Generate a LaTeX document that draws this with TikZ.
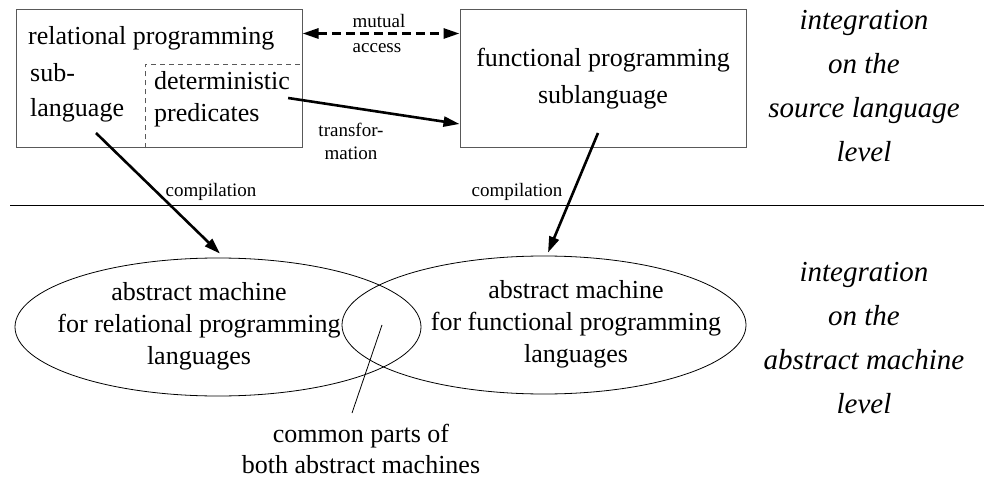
\documentclass[tikz,border=0pt]{standalone}
\usepackage{fontspec}
\setmainfont{Liberation Serif}
\usetikzlibrary{arrows.meta,shapes.geometric}
\begin{document}
\begin{tikzpicture}[x=1pt,y=-1pt,
  box/.style={draw=black!65, line width=1pt, minimum width=286pt, minimum height=138pt, inner sep=0pt},
  ell/.style={draw, ellipse, line width=0.8pt, inner sep=0pt},
  big/.style={font=\fontsize{26}{32}\selectfont, inner sep=0pt, align=center},
  lbl/.style={font=\fontsize{19}{23}\selectfont, inner sep=0pt, align=center},
  side/.style={font=\itshape\fontsize{29}{44}\selectfont, inner sep=0pt, align=center},
  arr/.style={line width=2.6pt, -{Triangle[length=16pt,width=10pt]}},
  darr/.style={line width=2.8pt, dash pattern=on 9pt off 5pt, {Triangle[length=16pt,width=10pt]}-{Triangle[length=16pt,width=10pt]}},
  thinl/.style={line width=0.8pt}]
\useasboundingbox (0,0) rectangle (984,478);
% boxes
\node[box] (lbox) at (159,79) {};
\node[box] (rbox) at (603,79) {};
\draw[draw=black!65, line width=0.8pt, dash pattern=on 5pt off 4pt]
  ([xshift=130pt]lbox.south west) |- ([yshift=-54.5pt]lbox.north east);
% texts in boxes
\node[big, anchor=west] (rel) at (28,38) {relational programming};
\node[big, anchor=west, align=left, font=\fontsize{26}{35}\selectfont] (sub) at (30,93) {sub-\\language};
\node[big, anchor=west, align=left] (det) at (154,99) {deterministic\\predicates};
\node[big, font=\fontsize{26}{37}\selectfont] (fun) at (603,79) {functional programming\\sublanguage};
% connector labels
\node[lbl] (mut) at (379,21) {mutual};
\node[lbl] (acc) at (377,48) {access};
\node[lbl] (trf) at (351,141) {transfor-\\mation};
\node[lbl] (comp1) at (211,192) {compilation};
\node[lbl] (comp2) at (517,192) {compilation};
% separator
\coordinate (sepL) at (10,205);
\coordinate (sepR) at (984,205);
\draw[thinl] (sepL) -- (sepR);
% ellipses
\node[ell, minimum width=406pt, minimum height=138pt] (lell) at (218,327) {};
\node[ell, minimum width=404pt, minimum height=138pt] (rell) at (544,325) {};
\node[big] (ltxt) at (199,326) {abstract machine\\for relational programming\\languages};
\node[big] (rtxt) at (576,324) {abstract machine\\for functional programming\\languages};
\node[big, font=\fontsize{26}{31}\selectfont] (common) at (361,449) {common parts of\\both abstract machines};
% side labels
\node[side] (s1) at (864,86) {integration\\on the\\source language\\level};
\node[side] (s2) at (864,338) {integration\\on the\\abstract machine\\level};
% connectors
\draw[darr] ([yshift=-24pt]lbox.north east) -- ([yshift=-24pt]rbox.north west);
\draw[arr] ([shift={(-2pt,0pt)}]det.north east |- 0,98) -- ([yshift=-45pt]rbox.west);
\coordinate (c1s) at (96,133);
\coordinate (c2s) at (598,133);
\draw[arr] (c1s) -- ([shift={(2pt,4pt)}]lell.north);
\draw[arr] (c2s) -- ([shift={(4pt,3pt)}]rell.north);
\coordinate (lead) at (382,325);
\coordinate (leadE) at (352,413);
\draw[thinl] (lead) -- (leadE);
\end{tikzpicture}
\end{document}
